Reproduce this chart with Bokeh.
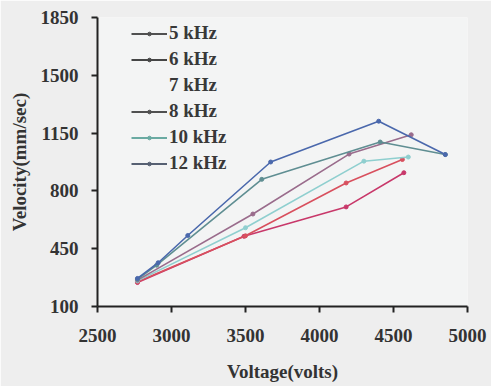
from bokeh.plotting import figure
from bokeh.models import FixedTicker, Legend, LegendItem, ColumnDataSource
from bokeh.embed import file_html
from bokeh.resources import INLINE

# Data (Voltage in volts, Velocity in mm/sec)
v5_x = [2770, 3490, 4180, 4570]
v5_y = [245, 525, 703, 910]
v6_x = [2770, 3500, 4180, 4560]
v6_y = [250, 528, 848, 990]
v7_x = [2770, 3500, 4300, 4600]
v7_y = [255, 577, 980, 1005]
v8_x = [2770, 3550, 4200, 4620]
v8_y = [260, 660, 1023, 1140]
v10_x = [2770, 2900, 3610, 4410, 4850]
v10_y = [265, 350, 870, 1096, 1020]
v12_x = [2770, 2910, 3110, 3670, 4400, 4850]
v12_y = [270, 365, 530, 975, 1222, 1020]

legend_labels = ["5 kHz", "6 kHz", "7 kHz", "8 kHz", "10 kHz", "12 kHz"]
x_ticks = [2500, 3000, 3500, 4000, 4500, 5000]
y_ticks = [100, 450, 800, 1150, 1500, 1850]

series = [
    (v5_x, v5_y, "#c8386a"),
    (v6_x, v6_y, "#d8505e"),
    (v7_x, v7_y, "#8fcfcf"),
    (v8_x, v8_y, "#9a6c8c"),
    (v10_x, v10_y, "#5f8e92"),
    (v12_x, v12_y, "#4a68ac"),
]
legend_colors = ["#505050", "#454545", None, "#505050", "#6aaaa2", "#566072"]

p = figure(width=491, height=386, output_backend="svg", toolbar_location=None,
           x_range=(2500, 5000), y_range=(100, 1850))
p.min_border_left = 97
p.min_border_right = 24
p.min_border_top = 17
p.min_border_bottom = 80
p.background_fill_color = "#f3f4f4"
p.border_fill_color = "#eeeeee"
p.outline_line_color = None
p.grid.visible = False

for xs, ys, c in series:
    src = ColumnDataSource(dict(x=xs, y=ys))
    p.line("x", "y", source=src, line_color=c, line_width=1.6)
    p.scatter("x", "y", source=src, size=4, color=c)

nan = float("nan")
items = []
for lab, c in zip(legend_labels, legend_colors):
    if c is None:
        r = p.line([nan], [nan], line_alpha=0)
        items.append(LegendItem(label=lab, renderers=[r]))
    else:
        r1 = p.line([nan], [nan], line_color=c, line_width=2)
        r2 = p.scatter([nan], [nan], size=4, color=c)
        items.append(LegendItem(label=lab, renderers=[r1, r2]))

legend = Legend(items=items, location=(34, 130))
legend.background_fill_alpha = 0
legend.border_line_color = None
legend.padding = 0
legend.margin = 0
legend.spacing = 0
legend.glyph_width = 36
legend.glyph_height = 9
legend.label_height = 26
legend.label_standoff = 2
legend.label_text_font = "Liberation Serif"
legend.label_text_font_style = "bold"
legend.label_text_font_size = "19px"
legend.label_text_color = "#383838"
p.add_layout(legend, "center")

for ax in (p.xaxis[0], p.yaxis[0]):
    ax.axis_line_width = 2
    ax.axis_line_color = "#222222"
    ax.major_tick_line_width = 2
    ax.major_tick_line_color = "#222222"
    ax.major_tick_out = 6
    ax.major_tick_in = 0
    ax.minor_tick_line_color = None
    ax.major_label_text_font = "Liberation Serif"
    ax.major_label_text_font_style = "bold"
    ax.major_label_text_font_size = "19px"
    ax.major_label_text_color = "#333333"
    ax.axis_label_text_font = "Liberation Serif"
    ax.axis_label_text_font_style = "bold"
    ax.axis_label_text_font_size = "19px"
    ax.axis_label_text_color = "#333333"

p.xaxis.ticker = FixedTicker(ticks=x_ticks)
p.yaxis.ticker = FixedTicker(ticks=y_ticks)
p.xaxis.axis_label = "Voltage(volts)"
p.yaxis.axis_label = "Velocity(mm/sec)"
p.xaxis.major_label_standoff = 16
p.xaxis.axis_label_standoff = 16
p.yaxis.major_label_standoff = 13
p.yaxis.axis_label_standoff = 8

open("out.html", "w").write(file_html(p, INLINE))
